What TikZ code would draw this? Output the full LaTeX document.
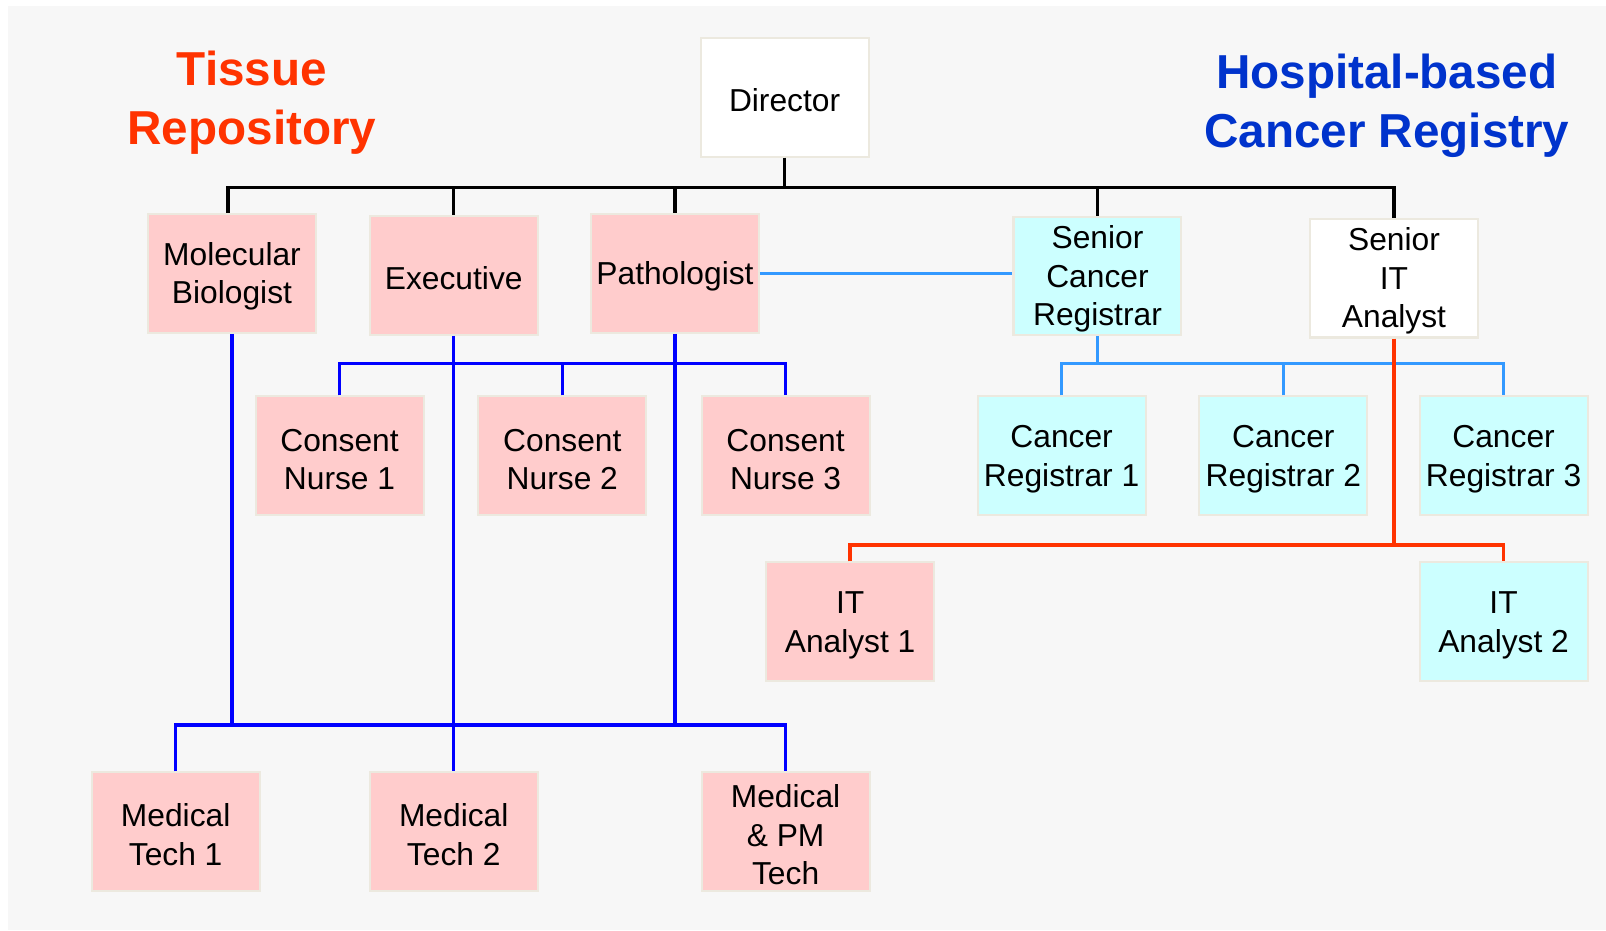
\documentclass[tikz,border=0pt]{standalone}
\usepackage{fontspec}
\setmainfont{Liberation Sans}
\definecolor{pinkfill}{HTML}{FFCCCC}
\definecolor{cyanfill}{HTML}{CCFFFF}
\definecolor{boxedge}{HTML}{ECE9DF}
\definecolor{bgfill}{HTML}{F7F7F7}
\definecolor{titlered}{HTML}{FF3300}
\definecolor{titleblue}{HTML}{0033CC}
\definecolor{linered}{HTML}{FF3300}
\definecolor{lineblue}{HTML}{0000FF}
\definecolor{linelightblue}{HTML}{3399FF}
\newcommand{\bxstrut}{\rule{0pt}{28.5pt}}
\begin{document}
\begin{tikzpicture}[x=1pt,y=-1pt,
  box/.style={draw=boxedge, line width=2pt, minimum width=164pt, minimum height=116pt,
    inner sep=0pt, align=center, font=\fontsize{31}{37.5}\selectfont},
  pk/.style={box, fill=pinkfill},
  cy/.style={box, fill=cyanfill},
  wh/.style={box, fill=white},
  title/.style={inner sep=0pt, align=center, font=\fontsize{46.5}{57.5}\selectfont\bfseries},
  blk/.style={line width=3.4pt, draw=black},
  bl/.style={line width=3.3pt, draw=lineblue},
  lb/.style={line width=3.3pt, draw=linelightblue},
  rd/.style={line width=3.3pt, draw=linered}]
\useasboundingbox (0,0) rectangle (1568,908);
\fill[bgfill] (8,6) rectangle (1568,908);

% titles
\node[title, text=titlered] (ttr) at (246,100.4) {Tissue\\Repository};
\node[title, text=titleblue] (thr) at (1354,103.3) {Hospital-based\\Cancer Registry};

% boxes
\node[wh] (dir) at (766,95) {\bxstrut Director};
\node[pk] (mb) at (226.5,267) {\bxstrut Molecular\\Biologist};
\node[pk] (ex) at (443,269) {\bxstrut Executive};
\node[pk] (pa) at (659,267) {\bxstrut Pathologist};
\node[cy] (scr) at (1071.5,269.5) {\bxstrut Senior\\Cancer\\Registrar};
\node[wh] (sita) at (1361,271.5) {\bxstrut Senior\\IT\\Analyst};
\node[pk] (cn1) at (331.5,445) {\bxstrut Consent\\Nurse 1};
\node[pk] (cn2) at (549,445) {\bxstrut Consent\\Nurse 2};
\node[pk] (cn3) at (767,445) {\bxstrut Consent\\Nurse 3};
\node[cy] (cr1) at (1036.5,445) {\bxstrut Cancer\\Registrar 1};
\node[cy] (cr2) at (1253,445) {\bxstrut Cancer\\Registrar 2};
\node[cy] (cr3) at (1468,445) {\bxstrut Cancer\\Registrar 3};
\node[pk] (it1) at (830,607) {\bxstrut IT\\Analyst 1};
\node[cy] (it2) at (1468,607) {\bxstrut IT\\Analyst 2};
\node[pk] (mt1) at (171.5,812) {\bxstrut Medical\\Tech 1};
\node[pk] (mt2) at (443,812) {\bxstrut Medical\\Tech 2};
\node[pk] (mt3) at (767,812) {\bxstrut Medical\\\& PM\\Tech};

% black tree from Director
\coordinate (bk) at (766,183);
\draw[blk] (dir.south) -- (bk);
\draw[blk] (bk) -| ([xshift=-4pt]mb.north);
\draw[blk] (bk) -| (ex.north);
\draw[blk] (bk) -| (pa.north);
\draw[blk] (bk) -| (scr.north);
\draw[blk] (bk) -| (sita.north);

% blue: consent nurses
\coordinate (cb) at (767,355);
\draw[bl] (cn1.north) |- (cb) -- (cn3.north);
\draw[bl] (cn2.north) -- (cn2.north |- cb);
% blue: medical techs
\coordinate (mbus) at (767,708);
\draw[bl] (mt1.north) |- (mbus) -- (mt3.north);
\draw[bl] (ex.south) -- (mt2.north);
\draw[bl] (mb.south) -- (mb.south |- mbus);
\draw[bl] (pa.south) -- (pa.south |- mbus);

% light blue
\draw[lb] (pa.east) -- (pa.east -| scr.west);
\coordinate (rb) at (1468,355);
\draw[lb] (scr.south) -- (scr.south |- rb);
\draw[lb] (cr1.north) |- (rb) -- (cr3.north);
\draw[lb] (cr2.north) -- (cr2.north |- rb);

% red
\coordinate (ib) at (1361,532);
\draw[rd] (sita.south) -- (ib);
\draw[rd] (it1.north) |- (ib) -| (it2.north);
\end{tikzpicture}
\end{document}
